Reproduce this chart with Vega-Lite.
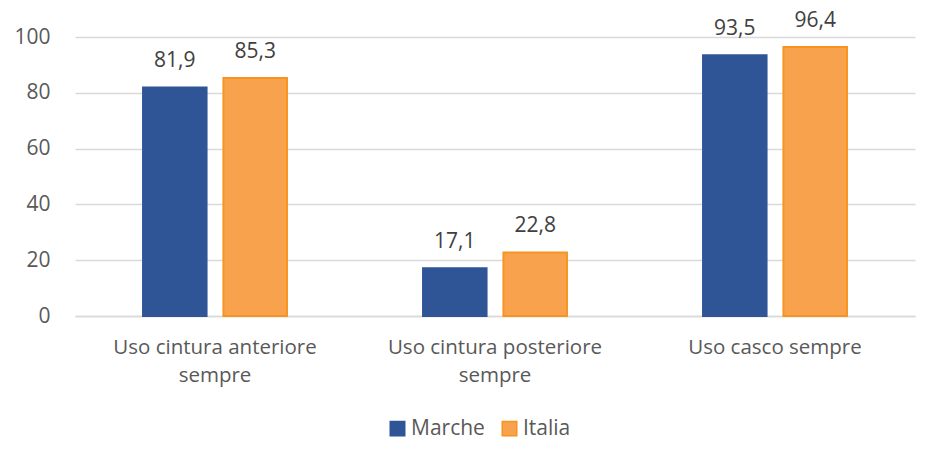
{
  "$schema": "https://vega.github.io/schema/vega-lite/v6.json",
  "width": 840,
  "height": 279,
  "autosize": "none",
  "padding": {"left": 75, "top": 37, "right": 10, "bottom": 149},
  "background": "#ffffff",
  "config": {
    "font": "Open Sans",
    "view": {"stroke": null},
    "locale": {"number": {"decimal": ",", "thousands": ".", "grouping": [3], "currency": ["€", ""]}}
  },
  "data": {
    "values": [
      {"categoria": "Uso cintura anteriore sempre", "serie": "Marche", "valore": 81.9},
      {"categoria": "Uso cintura anteriore sempre", "serie": "Italia", "valore": 85.3},
      {"categoria": "Uso cintura posteriore sempre", "serie": "Marche", "valore": 17.1},
      {"categoria": "Uso cintura posteriore sempre", "serie": "Italia", "valore": 22.8},
      {"categoria": "Uso casco sempre", "serie": "Marche", "valore": 93.5},
      {"categoria": "Uso casco sempre", "serie": "Italia", "valore": 96.4}
    ]
  },
  "encoding": {
    "x": {
      "field": "categoria",
      "type": "nominal",
      "sort": null,
      "scale": {"paddingInner": 0.486, "paddingOuter": 0.243},
      "axis": {
        "title": null,
        "labelAngle": 0,
        "labelFontSize": 20.5,
        "labelColor": "#595959",
        "labelPadding": 21,
        "labelLineHeight": 28,
        "labelBaseline": "top",
        "labelLimit": 0,
        "ticks": false,
        "domainColor": "#D9D9D9",
        "domainWidth": 1.5,
        "labelExpr": "length(datum.label) > 20 ? [substring(datum.label, 0, lastindexof(datum.label, ' ')), substring(datum.label, lastindexof(datum.label, ' ') + 1)] : datum.label"
      }
    },
    "xOffset": {
      "field": "serie",
      "type": "nominal",
      "sort": ["Marche", "Italia"],
      "scale": {"paddingInner": 0.21, "paddingOuter": 0}
    },
    "y": {
      "field": "valore",
      "type": "quantitative",
      "scale": {"domain": [0, 100], "nice": false},
      "axis": {
        "title": null,
        "values": [0, 20, 40, 60, 80, 100],
        "domain": false,
        "ticks": false,
        "labelFontSize": 21,
        "labelColor": "#595959",
        "labelPadding": 25,
        "gridColor": "#D9D9D9",
        "gridWidth": 1.5
      }
    }
  },
  "layer": [
    {
      "mark": {"type": "bar", "strokeWidth": 2},
      "encoding": {
        "color": {
          "field": "serie",
          "type": "nominal",
          "sort": ["Marche", "Italia"],
          "scale": {"domain": ["Marche", "Italia"], "range": ["#2F5597", "#F9A24E"]},
          "legend": {
            "title": null,
            "orient": "none",
            "legendX": 312,
            "legendY": 381,
            "direction": "horizontal",
            "labelFontSize": 21,
            "labelColor": "#595959",
            "symbolType": "square",
            "symbolSize": 210,
            "symbolStrokeWidth": 1.5,
            "columnPadding": 14,
            "labelOffset": 3
          }
        },
        "stroke": {
          "field": "serie",
          "type": "nominal",
          "scale": {"domain": ["Marche", "Italia"], "range": ["#2F5597", "#F7931E"]},
          "legend": null
        }
      }
    },
    {
      "mark": {"type": "text", "baseline": "alphabetic", "dy": -20, "fontSize": 21, "color": "#404040"},
      "encoding": {
        "text": {"field": "valore", "type": "quantitative", "format": ".1f"}
      }
    }
  ]
}
